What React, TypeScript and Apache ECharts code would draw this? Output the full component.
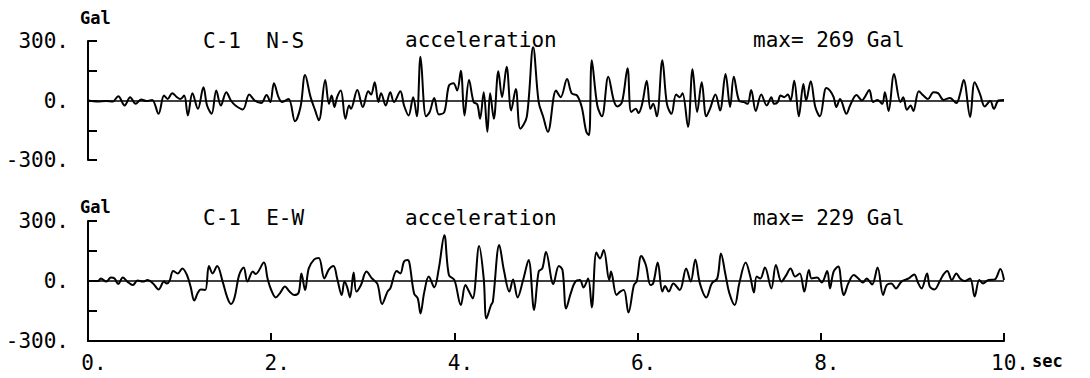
import { useEffect, useRef } from 'react';
import * as echarts from 'echarts';

// C-1 N-S record: time (s) and acceleration (Gal) at each turning point
const nsTime = [
  0.0, 0.1, 0.2, 0.27, 0.33, 0.4, 0.46, 0.52, 0.58, 0.64, 0.7, 0.77, 0.83, 0.87, 0.92, 0.97,
  1.01, 1.05, 1.09, 1.14, 1.2, 1.26, 1.3, 1.35, 1.4, 1.45, 1.51, 1.56, 1.61, 1.69, 1.76, 1.82,
  1.89, 1.95, 1.99, 2.03, 2.08, 2.12, 2.19, 2.26, 2.32, 2.37, 2.43, 2.48, 2.52, 2.59, 2.63, 2.66,
  2.69, 2.72, 2.76, 2.81, 2.85, 2.87, 2.94, 3.0, 3.06, 3.09, 3.13, 3.17, 3.2, 3.25, 3.3, 3.34,
  3.41, 3.45, 3.5, 3.55, 3.59, 3.63, 3.69, 3.73, 3.78, 3.83, 3.89, 3.94, 3.99, 4.03, 4.07, 4.11,
  4.16, 4.21, 4.25, 4.28, 4.32, 4.36, 4.39, 4.43, 4.48, 4.52, 4.57, 4.62, 4.67, 4.72, 4.79, 4.86,
  4.92, 4.97, 5.02, 5.11, 5.16, 5.23, 5.28, 5.34, 5.39, 5.44, 5.47, 5.5, 5.56, 5.61, 5.68, 5.74,
  5.78, 5.83, 5.89, 5.93, 5.98, 6.01, 6.05, 6.1, 6.14, 6.17, 6.21, 6.27, 6.32, 6.37, 6.42, 6.46,
  6.49, 6.55, 6.6, 6.65, 6.7, 6.75, 6.79, 6.85, 6.9, 6.96, 7.01, 7.05, 7.11, 7.16, 7.2, 7.24,
  7.29, 7.35, 7.41, 7.46, 7.49, 7.53, 7.56, 7.6, 7.64, 7.67, 7.71, 7.76, 7.81, 7.84, 7.89, 7.94,
  7.99, 8.06, 8.1, 8.14, 8.17, 8.21, 8.28, 8.32, 8.39, 8.45, 8.48, 8.53, 8.57, 8.62, 8.67, 8.7,
  8.74, 8.8, 8.87, 8.9, 8.94, 8.98, 9.01, 9.07, 9.12, 9.17, 9.23, 9.28, 9.34, 9.41, 9.48, 9.52,
  9.56, 9.63, 9.68, 9.74, 9.79, 9.85, 9.89, 9.94, 10.0,
];
const nsAccel = [
  0, -5, -3, -5, 22, -25, 17, -17, 5, -3, 3, -67, 25, 8, 37, 17,
  8, 25, -75, 37, -42, 67, -25, -67, 50, -25, 42, 0, -25, -45, 30, 0,
  -13, 28, -8, 87, 17, -8, 8, -105, -33, 128, 17, -50, -100, 103, -17, 25,
  -33, 17, 50, -92, -25, -42, 53, -33, 47, 30, 92, -8, 37, -25, 42, -8,
  47, -25, -75, 17, -80, 220, -80, -58, 13, -70, -58, 75, 87, 50, 150, -75,
  103, -8, -20, -92, 42, -158, 37, -92, 147, 17, 170, -50, 58, -142, -83, 269,
  -8, -83, -158, 50, 17, 108, 37, 25, -33, -158, -175, 203, -25, -80, 120, 0,
  -30, -8, 163, -58, -42, -63, -17, 100, -42, -17, -80, 203, -17, -67, 30, 17,
  37, -133, 158, -58, 92, -80, -42, 30, -50, 133, -33, 120, -3, -8, -17, 53,
  -53, 30, -25, 17, -17, -8, 25, 17, 30, 0, 100, -80, 83, 0, 97, -33,
  -80, 63, 50, 17, -33, 8, -67, -25, 28, 0, 17, 53, -8, 3, -17, 42,
  -53, 133, -8, 17, -47, -25, -53, 47, 25, 8, 42, 37, 3, 13, -13, 33,
  103, -83, 92, 30, -30, -3, -42, 0, 3,
];

// C-1 E-W record
const ewTime = [
  0.0, 0.11, 0.14, 0.2, 0.25, 0.29, 0.33, 0.38, 0.43, 0.49, 0.54, 0.6, 0.65, 0.71, 0.77, 0.83,
  0.86, 0.89, 0.93, 0.98, 1.03, 1.08, 1.12, 1.16, 1.2, 1.23, 1.28, 1.32, 1.36, 1.41, 1.47, 1.52,
  1.56, 1.6, 1.65, 1.7, 1.74, 1.8, 1.83, 1.92, 1.96, 2.0, 2.05, 2.1, 2.15, 2.2, 2.25, 2.3,
  2.33, 2.37, 2.41, 2.47, 2.52, 2.58, 2.63, 2.68, 2.72, 2.77, 2.8, 2.83, 2.86, 2.9, 2.93, 2.98,
  3.04, 3.1, 3.16, 3.21, 3.27, 3.3, 3.37, 3.41, 3.45, 3.49, 3.51, 3.56, 3.6, 3.63, 3.67, 3.72,
  3.78, 3.83, 3.89, 3.94, 4.0, 4.07, 4.12, 4.16, 4.2, 4.27, 4.32, 4.35, 4.4, 4.42, 4.49, 4.54,
  4.6, 4.64, 4.69, 4.75, 4.81, 4.87, 4.92, 4.96, 5.0, 5.08, 5.14, 5.18, 5.22, 5.27, 5.32, 5.37,
  5.41, 5.46, 5.5, 5.55, 5.59, 5.63, 5.69, 5.71, 5.77, 5.81, 5.85, 5.9, 5.96, 5.99, 6.04, 6.09,
  6.14, 6.17, 6.22, 6.27, 6.3, 6.34, 6.39, 6.46, 6.53, 6.58, 6.63, 6.68, 6.75, 6.81, 6.87, 6.91,
  6.96, 7.0, 7.06, 7.11, 7.18, 7.23, 7.27, 7.3, 7.34, 7.39, 7.46, 7.51, 7.57, 7.62, 7.67, 7.72,
  7.77, 7.82, 7.87, 7.9, 7.96, 8.01, 8.07, 8.1, 8.14, 8.19, 8.23, 8.25, 8.3, 8.36, 8.41, 8.46,
  8.5, 8.56, 8.62, 8.68, 8.72, 8.77, 8.82, 8.88, 8.96, 9.02, 9.06, 9.1, 9.16, 9.19, 9.24, 9.3,
  9.34, 9.38, 9.43, 9.48, 9.52, 9.57, 9.63, 9.68, 9.73, 9.77, 9.83, 9.9, 9.96, 10.0,
];
const ewAccel = [
  0, 0, 13, -3, 17, 13, -15, 17, -3, -20, 2, -3, 5, -12, -42, -3,
  -12, 0, 50, 38, 63, 30, -28, -98, -58, -42, -45, 75, 38, 75, -3, -82,
  -115, -82, 30, 68, -3, 47, 35, 92, 13, -45, -82, -58, -28, -53, -70, -58,
  38, -45, 63, 108, 115, 13, 58, 75, 13, -70, -3, -32, -82, 42, -53, -20,
  47, 13, -15, -115, -53, -37, 50, 38, 97, 105, 88, -62, -87, -162, -58, 22,
  -32, 63, 229, 30, 5, -120, -20, -53, -87, 175, 13, -187, -120, -103, 180, 55,
  -53, 8, -82, 5, 105, -145, 47, 63, 145, -15, 75, 55, -137, -62, -3, 5,
  -32, 13, -132, 142, 113, 155, 5, 47, -70, -53, -45, -158, -20, -3, 125, 80,
  -20, -12, 92, -53, -25, -53, -12, -45, 63, -3, 108, -12, -82, -12, 13, 138,
  30, -58, -120, -12, 92, 22, -58, 22, 13, 68, -37, 80, -3, 27, 63, 22,
  38, -53, 55, 13, 17, -7, 50, -37, 47, 72, -37, -70, -12, 30, 13, -8,
  13, -17, 67, -70, -20, -12, -37, -3, 13, 33, -7, -37, 38, -28, -42, 0,
  33, 50, 5, 38, 13, 0, 13, -78, 5, -12, 5, 8, 60, 5,
];

// Axis tick labels
const xTickLabels = ['0.', '2.', '4.', '6.', '8.', '10.'];
const yTickValues = [300, 0, -300];
const yTickTexts = ['300.', '0.', '-300.'];

// Panel captions
const panelTitles = ['C-1  N-S', 'C-1  E-W'];
const quantityLabel = 'acceleration';
const peakLabels = ['max= 269 Gal', 'max= 229 Gal'];
const unitY = 'Gal';
const unitX = 'sec';

const MONO = '"DejaVu Sans Mono", "Liberation Mono", monospace';
const FONT_SIZE = 21;

const toPairs = (t: number[], v: number[]) => t.map((x, i) => [x, v[i]]);

export default function App() {
  const ref = useRef<HTMLDivElement>(null);

  useEffect(() => {
    const chart = echarts.init(ref.current!, null, { renderer: 'svg' });

    const yAxis = (gridIndex: number) => ({
      gridIndex,
      type: 'value',
      min: -300,
      max: 300,
      interval: 150,
      axisLine: { show: true, onZero: false, lineStyle: { color: '#000', width: 2 } },
      axisTick: { show: true, inside: true, length: 9, lineStyle: { color: '#000', width: 2 } },
      axisLabel: {
        show: true,
        margin: 19,
        fontFamily: MONO,
        fontSize: FONT_SIZE,
        color: '#000',
        formatter: (v: number) => {
          const i = yTickValues.indexOf(v);
          return i >= 0 ? yTickTexts[i] : '';
        },
      },
      splitLine: { show: false },
    });

    const wave = (xAxisIndex: number, yAxisIndex: number, data: number[][]) => ({
      type: 'line',
      xAxisIndex,
      yAxisIndex,
      data,
      showSymbol: false,
      smooth: 0.35,
      silent: true,
      lineStyle: { color: '#000', width: 2 },
      markLine: {
        silent: true,
        symbol: ['none', 'none'],
        label: { show: false },
        lineStyle: { color: '#000', type: 'solid', width: 1.5 },
        data: [{ yAxis: 0 }],
      },
    });

    const text = (x: number, y: number, s: string, size = FONT_SIZE, weight = 'normal') => ({
      type: 'text',
      x,
      y,
      silent: true,
      style: {
        text: s,
        fontFamily: MONO,
        fontSize: size,
        fontWeight: weight,
        fill: '#000',
        verticalAlign: 'middle',
      },
    });

    chart.setOption({
      animation: false,
      backgroundColor: '#fff',
      grid: [
        { left: 88, top: 41, width: 916, height: 119 },
        { left: 88, top: 221, width: 916, height: 120 },
      ],
      xAxis: [
        { gridIndex: 0, type: 'value', min: 0, max: 10, interval: 2, show: false },
        {
          gridIndex: 1,
          type: 'value',
          min: 0,
          max: 10,
          interval: 2,
          axisLine: { show: true, onZero: false, lineStyle: { color: '#000', width: 2 } },
          axisTick: { show: true, inside: true, length: 8, lineStyle: { color: '#000', width: 2 } },
          axisLabel: {
            margin: 11,
            fontFamily: MONO,
            fontSize: FONT_SIZE,
            color: '#000',
            padding: [0, 0, 0, 12],
            formatter: (v: number) => xTickLabels[Math.round(v / 2)] ?? '',
          },
          splitLine: { show: false },
        },
      ],
      yAxis: [yAxis(0), yAxis(1)],
      series: [wave(0, 0, toPairs(nsTime, nsAccel)), wave(1, 1, toPairs(ewTime, ewAccel))],
      graphic: [
        text(80, 18, unitY, 17, 'bold'),
        text(203, 41, panelTitles[0]),
        text(405, 40, quantityLabel),
        text(753, 40, peakLabels[0]),
        text(80, 207, unitY, 17, 'bold'),
        text(203, 218, panelTitles[1]),
        text(405, 218, quantityLabel),
        text(753, 218, peakLabels[1]),
        text(1032, 361, unitX, 17, 'bold'),
      ],
    });

    return () => chart.dispose();
  }, []);

  return (
    <div
      ref={ref}
      style={{ position: 'absolute', left: 0, top: 0, width: 1090, height: 378 }}
    />
  );
}
